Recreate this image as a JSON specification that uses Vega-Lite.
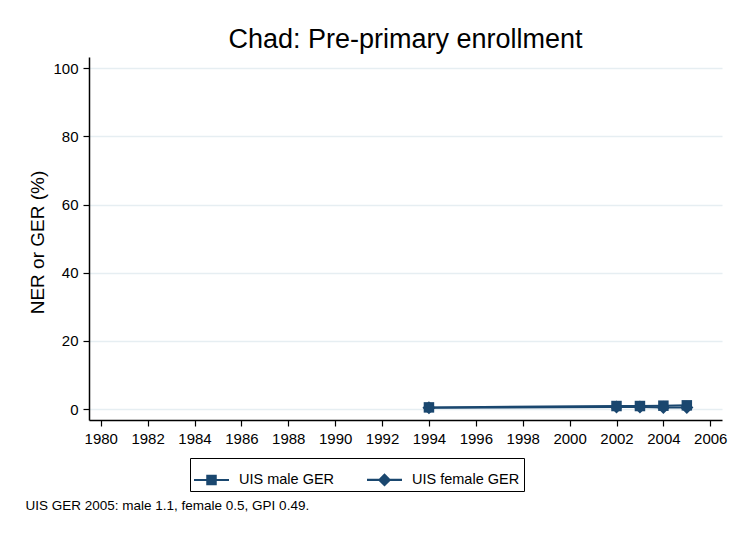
{
  "$schema": "https://vega.github.io/schema/vega-lite/v6.json",
  "width": 633,
  "height": 363,
  "autosize": {"type": "none"},
  "padding": {"left": 89, "top": 57, "right": 9, "bottom": 116},
  "background": "white",
  "config": {
    "view": {"stroke": null},
    "font": "Liberation Sans",
    "axis": {
      "domainColor": "black",
      "domainWidth": 1.5,
      "tickColor": "black",
      "tickWidth": 1.2,
      "tickSize": 6,
      "labelColor": "black",
      "labelFont": "Liberation Sans",
      "labelFontSize": 15,
      "titleColor": "black",
      "titleFont": "Liberation Sans",
      "titleFontWeight": "normal"
    }
  },
  "title": {
    "text": "Chad: Pre-primary enrollment",
    "font": "Liberation Sans",
    "fontSize": 27,
    "fontWeight": "normal",
    "color": "black",
    "anchor": "middle",
    "frame": "group",
    "baseline": "bottom",
    "offset": 3,
    "dy": 27
  },
  "data": {
    "values": [
      {"year": 1994, "value": 0.5, "series": "UIS male GER"},
      {"year": 2002, "value": 0.9, "series": "UIS male GER"},
      {"year": 2003, "value": 0.9, "series": "UIS male GER"},
      {"year": 2004, "value": 1.0, "series": "UIS male GER"},
      {"year": 2005, "value": 1.1, "series": "UIS male GER"},
      {"year": 1994, "value": 0.4, "series": "UIS female GER"},
      {"year": 2002, "value": 0.6, "series": "UIS female GER"},
      {"year": 2003, "value": 0.6, "series": "UIS female GER"},
      {"year": 2004, "value": 0.5, "series": "UIS female GER"},
      {"year": 2005, "value": 0.5, "series": "UIS female GER"}
    ]
  },
  "encoding": {
    "x": {
      "field": "year",
      "type": "quantitative",
      "scale": {"domain": [1979.5, 2006.5], "nice": false, "zero": false},
      "axis": {
        "values": [1980, 1982, 1984, 1986, 1988, 1990, 1992, 1994, 1996, 1998, 2000, 2002, 2004, 2006],
        "format": "d",
        "grid": false,
        "labelPadding": 5,
        "title": "UIS GER 2005: male 1.1, female 0.5, GPI 0.49.",
        "titleFontSize": 13.5,
        "titleAnchor": "start",
        "titleAlign": "left",
        "titleBaseline": "alphabetic",
        "titleX": -64,
        "titleY": 89
      }
    },
    "y": {
      "field": "value",
      "type": "quantitative",
      "scale": {"domain": [-3.2, 103.3], "nice": false, "zero": false},
      "axis": {
        "values": [0, 20, 40, 60, 80, 100],
        "grid": true,
        "gridColor": "#e6eef2",
        "gridWidth": 1.5,
        "labelPadding": 5,
        "title": "NER or GER (%)",
        "titleFontSize": 19,
        "titleAngle": -90,
        "titleAlign": "center",
        "titleBaseline": "alphabetic",
        "titleX": -46,
        "titleY": 185
      }
    }
  },
  "layer": [
    {
      "mark": {"type": "line", "color": "#1a476f", "strokeWidth": 2},
      "encoding": {"detail": {"field": "series"}}
    },
    {
      "mark": {"type": "point", "filled": true, "opacity": 0, "color": "#1a476f"},
      "encoding": {
        "shape": {
          "field": "series",
          "type": "nominal",
          "sort": ["UIS male GER", "UIS female GER"],
          "scale": {
            "domain": ["UIS male GER", "UIS female GER"],
            "range": ["M-1,-0.06H1V0.06H-1Z M-0.3,-0.3H0.3V0.3H-0.3Z", "M-1,-0.06H1V0.06H-1Z M0,-0.38L0.38,0L0,0.38L-0.38,0Z"]
          },
          "legend": {
            "title": null,
            "orient": "none",
            "legendX": 101,
            "legendY": 401,
            "direction": "horizontal",
            "strokeColor": "black",
            "fillColor": "white",
            "padding": 4,
            "labelFontSize": 14.5,
            "labelColor": "black",
            "labelFont": "Liberation Sans",
            "labelOffset": 10,
            "columnPadding": 32,
            "symbolSize": 1225,
            "symbolOpacity": 1,
            "symbolStrokeWidth": 0,
            "symbolFillColor": "#1a476f"
          }
        }
      }
    },
    {
      "mark": {"type": "point", "filled": true, "opacity": 1, "color": "#1a476f"},
      "encoding": {
        "shape": {
          "condition": {"test": "datum.series === 'UIS male GER'", "value": "square"},
          "value": "diamond"
        },
        "size": {
          "condition": {"test": "datum.series === 'UIS male GER'", "value": 110},
          "value": 170
        }
      }
    }
  ]
}
